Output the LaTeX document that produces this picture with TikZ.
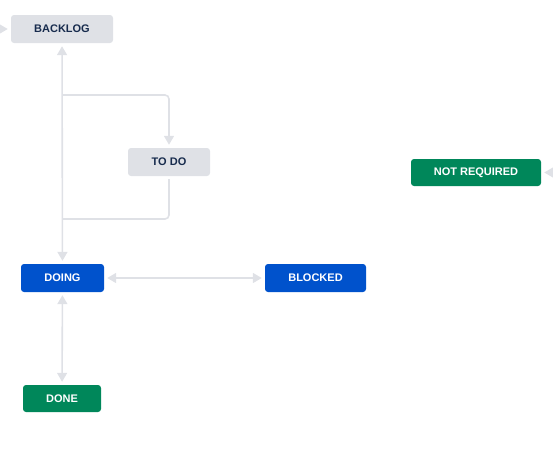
\documentclass[tikz,border=0pt]{standalone}
\usepackage{fontspec}
\setmainfont{Liberation Sans}
\usetikzlibrary{
    arrows.meta,             % For the triangle tips
    positioning              % For relative placement of nodes
}
\definecolor{linegray}{HTML}{DFE1E6}
\definecolor{textnavy}{HTML}{172B4D}
\definecolor{statusblue}{HTML}{0052CC}
\definecolor{statusgreen}{HTML}{00875A}

\begin{document}
\begin{tikzpicture}[
    x=1pt, y=-1pt,
    font=\fontsize{11}{13}\selectfont\bfseries,
    status/.style={
        rounded corners=3pt,
        minimum height=28pt,
        inner sep=0pt,
        align=center
    },
    todostate/.style={status, fill=linegray, text=textnavy},
    progressstate/.style={status, fill=statusblue, text=white},
    donestate/.style={status, fill=statusgreen, text=white},
    link/.style={draw=linegray, line width=1.6pt, shorten >=3pt, shorten <=3pt},
    twoway/.style={link, {Triangle[width=10pt, length=9pt]}-{Triangle[width=10pt, length=9pt]}},
    oneway/.style={link, -{Triangle[width=10pt, length=9pt]}}
]
    \useasboundingbox (0,0) rectangle (553,456);

    % --- Statuses ---
    \node[todostate, minimum width=102pt] (backlog) at (62,29) {BACKLOG};
    \node[todostate, minimum width=82pt] (todo) at (169,162) {TO DO};
    \node[progressstate, minimum width=83pt] (doing) at (62.5,278) {DOING};
    \node[progressstate, minimum width=101pt] (blocked) at (315.5,278) {BLOCKED};
    \node[donestate, minimum width=78pt, minimum height=27pt] (done) at (62,398.5) {DONE};
    \node[donestate, minimum width=130pt, minimum height=27pt] (notreq) at (476,172.5) {NOT REQUIRED};

    % --- Entry arrows from outside the frame ---
    \coordinate (backlogin) at (-14,29);
    \coordinate (notreqin) at (567,172.5);
    \draw[oneway] (backlogin) -- (backlog);
    \draw[oneway] (notreqin) -- (notreq);

    % --- Transitions ---
    \coordinate (fork) at (62,95);
    \coordinate (merge) at (62,219);
    \draw[twoway] (backlog) -- (doing);
    \draw[oneway, shorten <=0pt, rounded corners=4pt] (fork) -| (todo);
    \draw[link, shorten >=0pt, rounded corners=4pt] (todo) |- (merge);
    \draw[twoway] (doing) -- (blocked);
    \draw[twoway] (doing) -- (done);

\end{tikzpicture}
\end{document}
